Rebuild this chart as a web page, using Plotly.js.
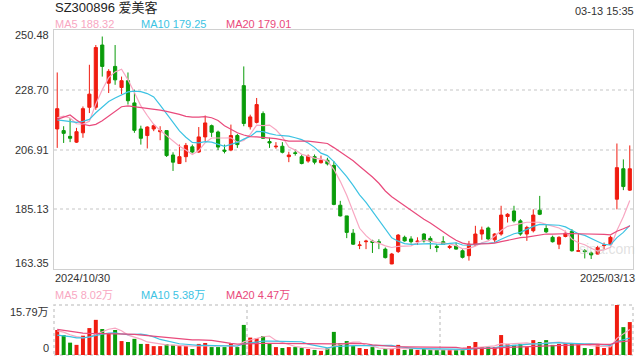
<!DOCTYPE html>
<html><head><meta charset="utf-8">
<script src="https://cdn.plot.ly/plotly-3.0.1.min.js"></script>
<style>html,body{margin:0;padding:0;background:#fff}#c{width:640px;height:360px}</style>
</head><body><div id="c"></div>
<script>
const dates = [
"2024-10-30","2024-10-31",
"2024-11-01","2024-11-04","2024-11-05","2024-11-06","2024-11-07","2024-11-08","2024-11-11","2024-11-12","2024-11-13","2024-11-14","2024-11-15","2024-11-18","2024-11-19","2024-11-20","2024-11-21","2024-11-22","2024-11-25","2024-11-26","2024-11-27","2024-11-28","2024-11-29",
"2024-12-02","2024-12-03","2024-12-04","2024-12-05","2024-12-06","2024-12-09","2024-12-10","2024-12-11","2024-12-12","2024-12-13","2024-12-16","2024-12-17","2024-12-18","2024-12-19","2024-12-20","2024-12-23","2024-12-24","2024-12-25","2024-12-26","2024-12-27","2024-12-30","2024-12-31",
"2025-01-02","2025-01-03","2025-01-06","2025-01-07","2025-01-08","2025-01-09","2025-01-10","2025-01-13","2025-01-14","2025-01-15","2025-01-16","2025-01-17","2025-01-20","2025-01-21","2025-01-22","2025-01-23","2025-01-24","2025-01-27",
"2025-02-05","2025-02-06","2025-02-07","2025-02-10","2025-02-11","2025-02-12","2025-02-13","2025-02-14","2025-02-17","2025-02-18","2025-02-19","2025-02-20","2025-02-21","2025-02-24","2025-02-25","2025-02-26","2025-02-27","2025-02-28",
"2025-03-03","2025-03-04","2025-03-05","2025-03-06","2025-03-07","2025-03-10","2025-03-11","2025-03-12","2025-03-13"];

const open = [214.4,213.8,211.7,209.6,213.0,222.3,222.3,245.0,231.1,237.2,
229.5,232.0,223.9,214.4,212.0,214.4,213.4,213.8,204.9,201.8,
204.3,207.9,206.0,211.5,215.6,213.3,206.7,206.7,212.0,230.2,
215.2,216.8,220.0,209.8,207.9,208.1,204.3,205.7,204.3,202.7,
204.3,202.1,203.0,201.1,186.6,182.7,176.4,171.9,173.3,173.5,
173.3,170.6,165.2,169.7,174.9,174.3,173.3,176.1,174.5,171.6,
173.3,171.2,171.8,170.0,168.2,172.1,176.1,178.3,174.0,176.1,
182.5,184.5,180.9,176.1,177.3,184.8,178.1,174.9,172.4,175.2,
177.1,169.8,170.0,169.2,168.8,171.9,172.4,188.8,199.9,192.1];

const high = [235.0,215.4,218.4,214.8,222.6,237.8,245.0,248.1,236.2,245.0,
233.5,235.0,228.7,215.6,215.4,216.2,215.4,213.8,205.9,208.7,
209.3,208.7,215.1,219.3,216.0,213.8,208.7,216.0,212.6,237.2,
219.6,225.7,220.8,211.2,209.6,209.6,206.1,206.9,205.1,205.1,
205.1,204.7,203.9,202.7,188.2,182.7,177.9,173.5,174.0,174.0,
174.2,171.2,169.2,176.1,175.5,175.3,174.9,176.4,175.3,172.4,
175.3,172.1,173.0,170.6,173.6,179.1,178.8,178.8,176.4,186.4,
183.7,186.4,181.5,179.1,185.1,190.0,179.7,175.5,175.3,177.3,
177.9,176.4,170.6,169.7,171.8,173.0,175.5,209.1,203.3,208.4];

const low = [207.5,209.3,209.6,209.3,211.2,220.2,221.4,233.5,227.5,230.5,
227.1,223.3,213.0,208.7,207.3,213.6,210.3,204.2,199.1,201.8,
202.3,205.5,205.7,209.9,211.5,206.7,205.5,206.3,207.5,215.4,
214.2,216.4,210.8,207.5,207.2,205.5,202.3,204.7,201.5,202.1,
201.5,201.8,201.1,186.6,182.5,174.6,172.1,170.6,170.6,169.2,
170.6,167.2,165.1,169.2,173.3,172.6,172.1,173.0,170.6,169.5,
172.1,170.6,170.4,167.2,166.4,171.8,174.0,174.0,173.0,175.5,
180.3,180.3,175.5,173.6,176.7,183.0,176.5,173.0,170.6,174.9,
169.7,169.7,167.2,167.0,168.7,170.6,172.1,185.1,192.1,191.8];

const close = [221.8,212.8,211.0,213.4,221.8,227.1,244.1,237.2,235.4,232.3,
232.0,224.7,213.9,211.0,215.1,215.6,213.8,204.7,202.3,204.3,
208.4,206.0,211.5,216.6,213.2,207.8,206.3,212.0,208.7,216.4,
218.8,223.3,211.0,209.3,208.1,205.9,204.9,205.5,201.8,204.5,
202.3,203.0,201.7,186.9,182.7,176.7,172.4,172.1,173.5,173.0,
173.0,167.5,168.8,175.7,173.6,173.3,173.5,173.6,173.5,171.2,
172.4,171.6,170.6,167.6,172.4,176.1,177.6,174.3,176.1,183.0,
183.3,180.9,176.1,178.5,183.0,183.3,176.9,173.3,174.9,176.4,
170.0,170.0,169.7,168.5,171.2,172.1,174.9,200.3,193.4,199.9];

const ma5 = [218.5,219.1,218.4,216.3,216.2,217.2,223.5,228.7,233.1,235.2,
236.2,232.3,227.7,222.8,219.3,216.1,213.9,212.0,210.3,208.1,
206.7,205.1,206.5,209.4,211.1,211.0,211.1,211.2,209.6,210.2,
212.4,215.8,215.6,215.8,214.1,211.5,207.8,206.7,205.2,204.5,
203.8,203.4,202.7,199.7,195.3,190.2,184.1,178.2,175.5,173.5,
172.8,171.8,171.2,171.6,171.7,171.8,173.0,173.9,173.5,173.0,
172.8,172.5,171.9,170.7,170.9,171.7,172.9,173.6,175.3,177.4,
178.9,179.5,179.9,180.4,180.4,180.4,179.6,179.0,178.3,177.0,
174.3,172.9,172.2,170.9,169.9,170.3,171.3,177.4,182.4,188.3];

const ma10 = [217.7,217.4,217.2,216.8,217.2,217.9,220.3,222.5,224.4,225.7,
226.7,227.9,228.2,228.0,227.3,226.1,223.1,219.9,216.5,213.7,
211.4,209.5,209.3,209.8,209.6,208.9,208.1,208.8,209.5,210.7,
211.7,213.5,213.4,212.7,212.2,212.0,211.8,211.2,210.5,209.3,
207.7,205.6,204.7,202.5,199.9,197.0,193.8,190.4,187.6,184.4,
181.5,178.0,174.7,173.5,172.6,172.3,172.4,172.6,172.6,172.4,
172.3,172.7,172.9,172.1,172.0,172.3,172.7,172.7,173.0,174.2,
175.3,176.2,176.7,177.8,178.9,179.6,179.5,179.4,179.3,178.7,
177.3,176.2,175.6,174.6,173.4,172.3,172.1,174.8,176.7,179.25];

const ma20 = [217.9,218.6,219.5,217.7,216.1,215.6,216.1,217.4,219.1,221.0,
222.5,222.8,222.5,222.3,222.0,221.7,221.3,220.8,220.3,219.7,
219.0,218.7,218.7,218.9,218.5,217.5,215.6,214.3,213.0,212.2,
211.6,211.5,211.3,211.3,210.9,210.4,210.0,210.0,210.0,210.0,
209.7,209.5,209.1,207.6,206.0,204.5,202.8,200.8,199.0,196.9,
194.6,191.8,189.7,188.0,186.3,184.6,183.1,181.5,180.1,178.4,
176.9,175.3,173.8,172.8,172.3,172.3,172.5,172.6,172.8,173.3,
173.8,174.5,174.8,175.0,175.4,175.9,176.1,176.1,176.2,176.4,
176.3,176.2,176.2,176.2,176.2,176.0,175.8,177.1,178.0,179.0];

// volume in 万
const volume = [7.9,6.3,3.9,3.2,6.1,8.5,11.1,8.2,6.8,7.9,
4.4,4.1,5.1,3.5,3.5,2.8,2.8,3.4,3.2,2.8,
2.8,1.9,3.5,3.8,2.5,2.5,2.5,3.7,2.5,9.5,
5.5,5.3,6.0,3.7,2.5,2.2,2.5,2.5,2.2,1.9,
1.6,1.3,2.1,7.3,3.7,4.4,2.8,2.2,1.9,2.5,
1.6,1.9,1.9,3.2,1.6,1.9,1.6,1.9,1.6,1.6,
1.6,1.6,1.6,1.6,2.8,4.1,2.5,2.5,2.5,6.3,
3.5,3.2,3.5,2.5,4.7,4.1,4.7,3.2,3.5,3.7,
3.5,3.5,2.2,1.9,3.2,2.2,3.2,15.79,8.8,10.4];

const vma5 = [7.6,7.2,6.4,5.8,5.48,5.6,6.56,7.42,8.14,8.5,
7.68,6.28,5.66,5.0,4.12,3.8,3.54,3.2,3.14,3.0,
3.0,2.82,2.84,2.96,2.9,2.84,2.96,3.0,2.74,4.14,
4.74,5.3,5.76,6.0,4.6,3.94,3.38,2.68,2.38,2.26,
2.14,1.9,1.82,2.84,3.2,3.76,4.06,4.08,3.0,2.76,
2.2,2.02,1.96,2.22,2.04,2.1,2.04,2.04,1.72,1.72,
1.66,1.66,1.6,1.6,1.84,2.34,2.52,2.7,2.88,3.58,
3.46,3.6,3.8,3.8,3.48,3.6,3.9,3.84,4.04,3.84,
3.72,3.48,3.28,2.96,2.86,2.6,2.54,5.26,6.64,8.02];

const vma10 = [6.3,6.1,5.8,5.4,5.4,5.7,6.2,6.6,6.9,6.99,
6.64,6.42,6.54,6.57,6.31,5.74,4.91,4.43,4.07,3.56,
3.4,3.18,3.02,3.05,2.95,2.92,2.89,2.92,2.85,3.52,
3.79,4.13,4.38,4.37,4.37,4.34,4.34,4.22,4.19,3.43,
3.04,2.64,2.25,2.61,2.73,2.95,2.98,2.95,2.92,2.98,
2.98,3.04,3.02,2.61,2.4,2.15,2.03,2.0,1.97,1.88,
1.88,1.85,1.82,1.66,1.78,2.0,2.09,2.15,2.24,2.71,
2.9,3.06,3.25,3.34,3.53,3.53,3.75,3.82,3.92,3.66,
3.66,3.69,3.56,3.5,3.35,3.16,3.01,4.27,4.8,5.38];

const vma20 = [8.1,7.8,7.4,7.1,6.9,6.8,6.8,6.8,6.8,6.8,
6.7,6.6,6.5,6.3,6.1,5.9,5.7,5.5,5.4,5.28,
5.02,4.8,4.78,4.81,4.63,4.33,3.9,3.68,3.46,3.54,
3.6,3.66,3.7,3.71,3.66,3.63,3.62,3.57,3.52,3.48,
3.42,3.39,3.32,3.49,3.55,3.65,3.66,3.59,3.56,3.21,
3.01,2.84,2.64,2.61,2.57,2.55,2.51,2.48,2.45,2.43,
2.43,2.45,2.42,2.14,2.09,2.08,2.06,2.08,2.11,2.3,
2.39,2.46,2.54,2.5,2.66,2.77,2.92,2.99,3.08,3.19,
3.28,3.38,3.41,3.42,3.44,3.35,3.38,4.04,4.36,4.47];

const priceTicks = [250.48, 228.70, 206.91, 185.13, 163.35];
const volTicks = [15.79, 0];
const volTickText = ["15.79万", "0"];
const titleText = "SZ300896 爱美客";
const timeText = "03-13 15:35";
const startLabel = "2024/10/30";
const endLabel = "2025/03/13";
const priceLegend = ["MA5 188.32", "MA10 179.25", "MA20 179.01"];
const volLegend = ["MA5 8.02万", "MA10 5.38万", "MA20 4.47万"];

const RED = "#f01c10", GREEN = "#0a9c0a";
const C5 = "#f8a7c2", C10 = "#3cc3e3", C20 = "#e94a7c";
const FONT = "Liberation Sans, Arial, Noto Sans CJK SC, sans-serif";
const TXT = "#333";

const volColors = close.map((c, i) => c >= open[i] ? RED : GREEN);

const traces = [
  {type:"candlestick", x:dates, open:open, high:high, low:low, close:close,
   xaxis:"x", yaxis:"y", whiskerwidth:0,
   increasing:{line:{color:RED, width:1}, fillcolor:RED},
   decreasing:{line:{color:GREEN, width:1}, fillcolor:GREEN},
   hoverinfo:"skip"},
  {type:"scatter", mode:"lines", x:dates, y:ma5, xaxis:"x", yaxis:"y", line:{color:C5, width:1.2}, hoverinfo:"skip"},
  {type:"scatter", mode:"lines", x:dates, y:ma10, xaxis:"x", yaxis:"y", line:{color:C10, width:1.2}, hoverinfo:"skip"},
  {type:"scatter", mode:"lines", x:dates, y:ma20, xaxis:"x", yaxis:"y", line:{color:C20, width:1.2}, hoverinfo:"skip"},
  {type:"bar", x:dates, y:volume, xaxis:"x2", yaxis:"y2", width:0.62, marker:{color:volColors, line:{width:0}}, hoverinfo:"skip"},
  {type:"scatter", mode:"lines", x:dates, y:vma5, xaxis:"x2", yaxis:"y2", line:{color:C5, width:1.2}, hoverinfo:"skip"},
  {type:"scatter", mode:"lines", x:dates, y:vma10, xaxis:"x2", yaxis:"y2", line:{color:C10, width:1.2}, hoverinfo:"skip"},
  {type:"scatter", mode:"lines", x:dates, y:vma20, xaxis:"x2", yaxis:"y2", line:{color:C20, width:1.2}, hoverinfo:"skip"}
];

// plot area: x 54..633, y 30..355 (height 325)
const W = 579, PT = 30, PB = 355, H = PB - PT;
const px = v => (v - 54) / W;
const py = v => (PB - v) / H;

const annotations = [];
function ann(text, x, y, xanchor, size, color, extra) {
  annotations.push(Object.assign({text:text, x:x, y:y, xref:"paper", yref:"paper",
    xanchor:xanchor, yanchor:"middle", showarrow:false,
    font:{family:FONT, size:size, color:color}}, extra || {}));
}
ann(titleText, px(53), py(8), "left", 13, "#222");
ann(timeText, px(636), py(11), "right", 11, TXT);
ann(priceLegend[0], px(53), py(24), "left", 11, C5);
ann(priceLegend[1], px(139), py(24), "left", 11, C10);
ann(priceLegend[2], px(224), py(24), "left", 11, C20);
ann(startLabel, px(53), py(278), "left", 11, TXT);
ann(endLabel, px(637), py(278), "right", 11, TXT);
ann(volLegend[0], px(53), py(295), "left", 11, C5);
ann(volLegend[1], px(139), py(295), "left", 11, C10);
ann(volLegend[2], px(224), py(295), "left", 11, C20);
ann("sina.com", px(607), py(249), "center", 14, "rgba(200,200,200,0.55)");

priceTicks.forEach((v, i) => {
  let ys = 0;
  if (i === 0) ys = -5;
  if (i === priceTicks.length - 1) ys = 6;
  annotations.push({text:v.toFixed(2), x:px(51), y:v, xref:"paper", yref:"y",
    xanchor:"right", yanchor:"middle", yshift:ys, showarrow:false,
    font:{family:FONT, size:11, color:TXT}});
});
volTicks.forEach((v, i) => {
  annotations.push({text:volTickText[i], x:px(51), y:v, xref:"paper", yref:"y2",
    xanchor:"right", yanchor:"middle", yshift:(i === 0 ? -7 : 7), showarrow:false,
    font:{family:FONT, size:11, color:TXT}});
});

const dotLine = {color:"#cfcfcf", width:1.5, dash:"dot"};
const shapes = [
  {type:"rect", xref:"x2 domain", yref:"y2 domain", x0:0, x1:1, y0:0, y1:1, line:dotLine, layer:"below"},
  {type:"line", xref:"x2 domain", yref:"y2 domain", x0:1/3, x1:1/3, y0:0, y1:1, line:dotLine, layer:"below"},
  {type:"line", xref:"x2 domain", yref:"y2 domain", x0:2/3, x1:2/3, y0:0, y1:1, line:dotLine, layer:"below"}
];

const layout = {
  width:640, height:360,
  margin:{l:54, r:7, t:PT, b:360 - PB},
  paper_bgcolor:"#fff", plot_bgcolor:"#fff",
  showlegend:false, hovermode:false,
  font:{family:FONT, size:11, color:TXT},
  xaxis:{type:"category", domain:[0,1], anchor:"y", range:[-0.5, dates.length - 0.5],
    showticklabels:false, ticks:"", showgrid:false, zeroline:false,
    showline:true, mirror:true, linecolor:"#d0d0d0", linewidth:1,
    rangeslider:{visible:false}, fixedrange:true},
  yaxis:{domain:[py(269), 1], anchor:"x", range:[priceTicks[priceTicks.length-1], priceTicks[0]],
    tickvals:priceTicks.slice(1, -1), showticklabels:false, ticks:"",
    showgrid:true, gridcolor:"#e2e2e2", gridwidth:2, griddash:"dot",
    zeroline:false, showline:true, mirror:true, linecolor:"#d0d0d0", linewidth:1, fixedrange:true},
  xaxis2:{type:"category", domain:[0,1], anchor:"y2", matches:"x", range:[-0.5, dates.length - 0.5],
    showticklabels:false, ticks:"", showgrid:false, zeroline:false, showline:false, fixedrange:true},
  yaxis2:{domain:[0, py(305)], anchor:"x2", range:[0, volTicks[0]],
    showticklabels:false, ticks:"", showgrid:false, zeroline:false, showline:false, fixedrange:true},
  annotations:annotations,
  shapes:shapes
};

Plotly.newPlot("c", traces, layout, {displayModeBar:false, staticPlot:true});
</script>
</body></html>
